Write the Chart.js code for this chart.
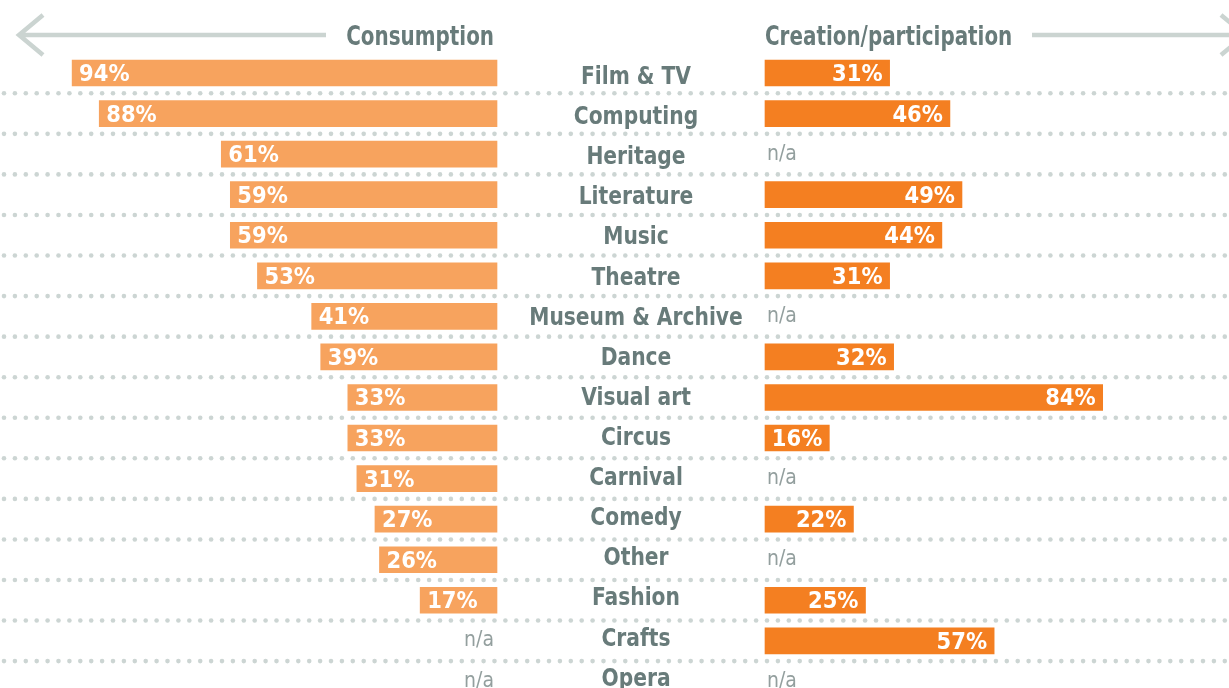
<!DOCTYPE html>
<html>
<head>
<meta charset="utf-8">
<script src="https://cdn.jsdelivr.net/npm/chart.js@4/dist/chart.umd.min.js"></script>
<style>
  html, body { margin: 0; padding: 0; background: #fff; }
  #wrap { position: relative; width: 1229px; height: 688px; }
</style>
</head>
<body>
<div id="wrap"><canvas id="chart" width="1229" height="688"></canvas></div>
<script>
// categories and the two series (null = n/a)
const categories = ['Film & TV', 'Computing', 'Heritage', 'Literature', 'Music', 'Theatre',
  'Museum & Archive', 'Dance', 'Visual art', 'Circus', 'Carnival', 'Comedy', 'Other',
  'Fashion', 'Crafts', 'Opera']
const consumption = [94, 88, 61, 59, 59, 53, 41, 39, 33, 33, 31, 27, 26, 17, null, null]
const creation = [31, 46, null, 49, 44, 31, null, 32, 84, 16, null, 22, null, 25, 57, null]
const headers = ['Consumption', 'Creation/participation']

// layout
const W = 1229
const leftZero = 497, leftPx = 4.52   // px per percent, left side
const rightZero = 765, rightPx = 4.02 // px per percent, right side
const textGray = '#687b7a'
const lightGray = '#cbd4d1'
const font = '"DejaVu Sans Condensed", "DejaVu Sans", sans-serif'

// text squeezed horizontally by sx
function squeezed(ctx, text, x, y, align, sx) {
  ctx.save()
  ctx.translate(x, y)
  ctx.scale(sx, 1)
  ctx.textAlign = align
  ctx.fillText(text, 0, 0)
  ctx.restore()
}

// dotted separators, header and labels
const decorations = {
  id: 'decorations',
  beforeDatasetsDraw(chart) {
    const ctx = chart.ctx
    const y = chart.scales.y
    ctx.save()
    // dotted rows
    ctx.fillStyle = '#ccd5d3'
    for (let i = 0; i < categories.length - 1; i++) {
      const yy = (y.getPixelForValue(i) + y.getPixelForValue(i + 1)) / 2
      for (let x = 4; x < W; x += 10.9) {
        ctx.beginPath()
        ctx.arc(x, yy, 2.3, 0, Math.PI * 2)
        ctx.fill()
      }
    }
    // arrows
    ctx.strokeStyle = lightGray
    ctx.lineWidth = 4.5
    ctx.beginPath()
    ctx.moveTo(18, 35); ctx.lineTo(326, 35)
    ctx.moveTo(1032, 35); ctx.lineTo(1229, 35)
    ctx.moveTo(43, 15); ctx.lineTo(19, 35); ctx.lineTo(43, 55)
    ctx.moveTo(1221, 15); ctx.lineTo(1245, 35); ctx.lineTo(1221, 55)
    ctx.stroke()
    // headers
    ctx.fillStyle = textGray
    ctx.textBaseline = 'alphabetic'
    ctx.font = 'bold 27px ' + font
    squeezed(ctx, headers[0], 494, 45, 'right', 0.82)
    squeezed(ctx, headers[1], 765, 45, 'left', 0.82)
    // category names (their baselines creep up slightly row by row)
    ctx.font = 'bold 25px ' + font
    categories.forEach((c, i) => {
      squeezed(ctx, c, 636, y.getPixelForValue(i) + 11 - i * 0.45, 'center', 0.9)
    })
    ctx.restore()
  },
  afterDatasetsDraw(chart) {
    const ctx = chart.ctx
    ctx.save()
    ctx.textBaseline = 'alphabetic'
    chart.data.datasets.forEach((ds, di) => {
      const meta = chart.getDatasetMeta(di)
      ds.data.forEach((v, i) => {
        const yy = chart.scales.y.getPixelForValue(i)
        if (v == null) {
          ctx.font = '21px ' + font
          ctx.fillStyle = '#939f9e'
          squeezed(ctx, 'n/a', di === 0 ? 494 : 767, yy + 5.5, di === 0 ? 'right' : 'left', 1)
          return
        }
        const bar = meta.data[i]
        ctx.font = 'bold 23px ' + font
        ctx.fillStyle = '#fff'
        squeezed(ctx, v + '%', di === 0 ? bar.x + 7 : bar.x - 7, yy + 8,
          di === 0 ? 'left' : 'right', 1.02)
      })
    })
    ctx.restore()
  }
}

new Chart(document.getElementById('chart'), {
  type: 'bar',
  data: {
    labels: categories,
    datasets: [
      { data: consumption, xAxisID: 'xl', backgroundColor: '#f7a35e',
        barThickness: 26, grouped: false, clip: false },
      { data: creation, xAxisID: 'xr', backgroundColor: '#f47f21',
        barThickness: 26, grouped: false, clip: false }
    ]
  },
  options: {
    indexAxis: 'y',
    responsive: false,
    animation: false,
    layout: { padding: { top: 73, bottom: 6.6, left: 0, right: 0 } },
    plugins: { legend: { display: false }, tooltip: { enabled: false } },
    scales: {
      y: { display: false, offset: false },
      // reversed axis so consumption grows to the left of leftZero
      xl: { type: 'linear', display: false, reverse: true,
        min: -(W - leftZero) / leftPx, max: leftZero / leftPx },
      xr: { type: 'linear', display: false,
        min: -rightZero / rightPx, max: (W - rightZero) / rightPx }
    }
  },
  plugins: [decorations]
})
</script>
</body>
</html>
